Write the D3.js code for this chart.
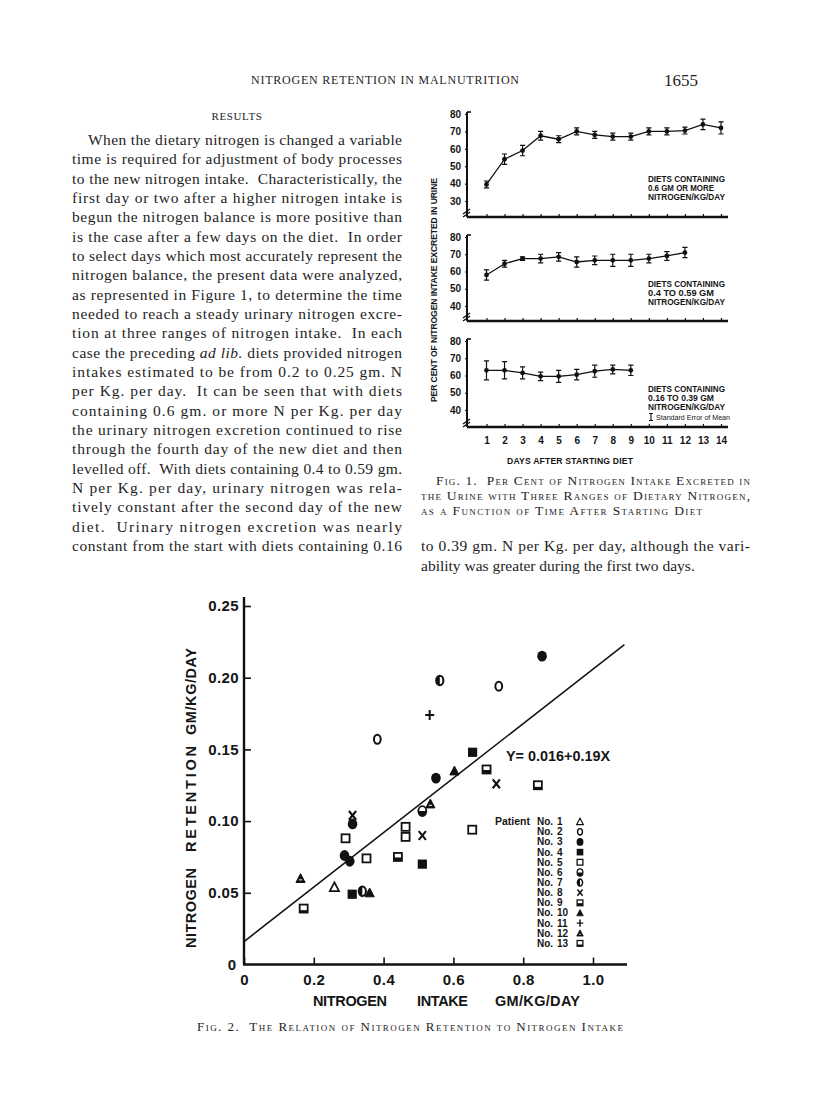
<!DOCTYPE html>
<html>
<head>
<meta charset="utf-8">
<script src="https://cdn.jsdelivr.net/npm/d3@7"></script>
<style>
  body { margin: 0; background: #fff; }
  svg { display: block; }
  .serif { font-family: "Liberation Serif", "DejaVu Serif", serif; fill: #1e1e1e; }
  .sans { font-family: "Liberation Sans", Arial, sans-serif; font-weight: bold; fill: #151515; }
  .sans-light { font-family: "Liberation Sans", Arial, sans-serif; fill: #151515; }
</style>
</head>
<body>
<svg id="page"></svg>
<script>
// ---- page text ----
const headerTitle = "NITROGEN RETENTION IN MALNUTRITION";
const pageNumber = "1655";
const sectionTitle = "RESULTS";
const leftColumn = [
  "When the dietary nitrogen is changed a variable",
  "time is required for adjustment of body processes",
  "to the new nitrogen intake.  Characteristically, the",
  "first day or two after a higher nitrogen intake is",
  "begun the nitrogen balance is more positive than",
  "is the case after a few days on the diet.  In order",
  "to select days which most accurately represent the",
  "nitrogen balance, the present data were analyzed,",
  "as represented in Figure 1, to determine the time",
  "needed to reach a steady urinary nitrogen excre-",
  "tion at three ranges of nitrogen intake.  In each",
  "case the preceding <i>ad lib.</i> diets provided nitrogen",
  "intakes estimated to be from 0.2 to 0.25 gm. N",
  "per Kg. per day.  It can be seen that with diets",
  "containing 0.6 gm. or more N per Kg. per day",
  "the urinary nitrogen excretion continued to rise",
  "through the fourth day of the new diet and then",
  "levelled off.  With diets containing 0.4 to 0.59 gm.",
  "N per Kg. per day, urinary nitrogen was rela-",
  "tively constant after the second day of the new",
  "diet.  Urinary nitrogen excretion was nearly",
  "constant from the start with diets containing 0.16"
];
const rightColumn = [
  "to 0.39 gm. N per Kg. per day, although the vari-",
  "ability was greater during the first two days."
];
const fig1Caption = [
  "Fig. 1.  Per Cent of Nitrogen Intake Excreted in",
  "the Urine with Three Ranges of Dietary Nitrogen,",
  "as a Function of Time After Starting Diet"
];
const fig2Caption = "Fig. 2.  The Relation of Nitrogen Retention to Nitrogen Intake";

// ---- Fig. 1 data (per cent of intake excreted, mean and standard error) ----
const dayTicks = [1, 2, 3, 4, 5, 6, 7, 8, 9, 10, 11, 12, 13, 14];
const daysHigh = [1, 2, 3, 4, 5, 6, 7, 8, 9, 10, 11, 12, 13, 14];
const pctHigh = [39.5, 54, 59, 67.5, 65.5, 70, 68, 67, 67, 70, 70, 70.5, 74, 72];
const errHigh = [2, 3, 3, 2.5, 2, 2, 2, 2, 2, 2, 2, 2, 3, 3.5];
const daysMid = [1, 2, 3, 4, 5, 6, 7, 8, 9, 10, 11, 12];
const pctMid = [58, 64.5, 67.5, 67.5, 68.5, 65.5, 66.5, 66.5, 66.5, 67.5, 69, 71];
const errMid = [3, 2, 1, 2.5, 2.5, 3, 2.5, 3.5, 3.5, 2.5, 2.5, 3];
const daysLow = [1, 2, 3, 4, 5, 6, 7, 8, 9];
const pctLow = [63, 63, 61.5, 59.5, 59.5, 60.5, 62.5, 63.5, 63];
const errLow = [5.5, 5, 3.5, 2.5, 3.5, 3, 3.5, 2.5, 3];
const ticksHigh = [30, 40, 50, 60, 70, 80];
const ticksMid = [40, 50, 60, 70, 80];
const ticksLow = [40, 50, 60, 70, 80];
const notesHigh = ["DIETS CONTAINING", "0.6 GM OR MORE", "NITROGEN/KG/DAY"];
const notesMid = ["DIETS CONTAINING", "0.4 TO 0.59 GM", "NITROGEN/KG/DAY"];
const notesLow = ["DIETS CONTAINING", "0.16 TO 0.39 GM", "NITROGEN/KG/DAY"];
const fig1YTitle = "PER CENT OF NITROGEN INTAKE EXCRETED IN URINE";
const fig1XTitle = "DAYS AFTER STARTING DIET";

// ---- Fig. 2 data (intake vs retention, gm/kg/day) ----
const patientNos = [1, 2, 3, 4, 5, 6, 7, 8, 9, 10, 11, 12, 13];
const patientSymbols = ["triOpen", "ring", "dot", "sqFill", "sqOpen", "ringLow", "ringSide",
  "cross", "sqHalf", "triFill", "plus", "triNotch", "sqBar"];
const intake = [0.259, 0.382, 0.730, 0.854, 0.550, 0.311, 0.288, 0.303, 0.655, 0.511, 0.310,
  0.291, 0.463, 0.463, 0.351, 0.654, 0.511, 0.561, 0.339, 0.311, 0.511, 0.723, 0.441, 0.695,
  0.603, 0.360, 0.532, 0.162, 0.534, 0.171, 0.842];
const retention = [0.054, 0.157, 0.194, 0.215, 0.130, 0.098, 0.076, 0.072, 0.148, 0.070, 0.049,
  0.088, 0.096, 0.089, 0.074, 0.094, 0.107, 0.198, 0.051, 0.104, 0.090, 0.126, 0.075, 0.136,
  0.135, 0.050, 0.174, 0.060, 0.112, 0.039, 0.125];
const patientOf = [1, 2, 2, 3, 3, 3, 3, 3, 4, 4, 4, 5, 5, 5, 5, 5, 6, 7, 7, 8, 8, 8, 9, 9,
  10, 10, 11, 12, 12, 13, 13];
const xTicks2 = [0, 0.2, 0.4, 0.6, 0.8, 1.0];
const xTickLabels2 = ["0", "0.2", "0.4", "0.6", "0.8", "1.0"];
const yTicks2 = [0.05, 0.10, 0.15, 0.20, 0.25];
const fitIntercept = 0.016;
const fitSlope = 0.19;
const fitXRange = [0, 1.09];
const fitLabel = "Y= 0.016+0.19X";

const svg = d3.select("#page").attr("width", 816).attr("height", 1109);
svg.append("rect").attr("width", 816).attr("height", 1109).attr("fill", "#fff");

// ---------- running head and body text ----------
svg.append("text").attr("class", "serif")
  .attr("x", 251).attr("y", 84).attr("font-size", 12)
  .attr("textLength", 268).attr("lengthAdjust", "spacing")
  .text(headerTitle);
svg.append("text").attr("class", "serif")
  .attr("x", 698).attr("y", 86).attr("font-size", 17).attr("text-anchor", "end")
  .text(pageNumber);
svg.append("text").attr("class", "serif")
  .attr("x", 237).attr("y", 120).attr("font-size", 11).attr("text-anchor", "middle")
  .attr("letter-spacing", 0.6)
  .text(sectionTitle);

// justified line with optional <i> runs
function bodyLine(x, y, width, line, justify) {
  const t = svg.append("text").attr("class", "serif")
    .attr("x", x).attr("y", y).attr("font-size", 15.5)
    .attr("xml:space", "preserve");
  if (justify) t.attr("textLength", width).attr("lengthAdjust", "spacing");
  line.split(/(<i>.*?<\/i>)/).forEach(part => {
    if (!part) return;
    const it = part.startsWith("<i>");
    t.append("tspan")
      .attr("font-style", it ? "italic" : null)
      .text(it ? part.slice(3, -4) : part);
  });
}

leftColumn.forEach((line, i) => {
  const x = i === 0 ? 88 : 72;
  bodyLine(x, 145 + i * 19.33, 402 - x, line, true);
});
bodyLine(421, 551, 329, rightColumn[0], true);
bodyLine(421, 570.5, 0, rightColumn[1], false);

// captions in small caps
fig1Caption.forEach((line, i) => {
  const x = i === 0 ? 436 : 421;
  const t = svg.append("text").attr("class", "serif")
    .attr("x", x).attr("y", 485 + i * 15).attr("font-size", 13.5)
    .style("font-variant", "small-caps")
    .attr("xml:space", "preserve")
    .text(line);
  if (i < 2) t.attr("textLength", 750 - x).attr("lengthAdjust", "spacing");
  else t.attr("textLength", 281).attr("lengthAdjust", "spacing");
});
svg.append("text").attr("class", "serif")
  .attr("x", 197).attr("y", 1031).attr("font-size", 13)
  .style("font-variant", "small-caps")
  .attr("xml:space", "preserve")
  .attr("textLength", 426).attr("lengthAdjust", "spacing")
  .text(fig2Caption);

// ---------- Fig. 1 ----------
const fig1 = svg.append("g").attr("class", "fig1");
const x1 = d3.scaleLinear().domain([1, 14]).range([486.5, 721]);
const axisLeftX = 467;
const axisRightX = 728;

const panels = [
  { days: daysHigh, pct: pctHigh, err: errHigh, ticks: ticksHigh, notes: notesHigh,
    lo: 30, loY: 201, topY: 114, base: 217, noteY: 182, labels: false },
  { days: daysMid, pct: pctMid, err: errMid, ticks: ticksMid, notes: notesMid,
    lo: 40, loY: 306, topY: 237, base: 321, noteY: 287, labels: false },
  { days: daysLow, pct: pctLow, err: errLow, ticks: ticksLow, notes: notesLow,
    lo: 40, loY: 410, topY: 341, base: 427, noteY: 392, labels: true }
];

panels.forEach(p => {
  const y = d3.scaleLinear().domain([p.lo, 80]).range([p.loY, p.topY]);
  const g = fig1.append("g");

  // y axis: ticks and labels from d3.axisLeft
  const ya = g.append("g")
    .attr("transform", `translate(${axisLeftX},0)`)
    .call(d3.axisLeft(y).tickValues(p.ticks).tickSize(2).tickPadding(4).tickFormat(d3.format("d")));
  ya.select(".domain").remove();
  ya.selectAll("line").attr("stroke", "#111").attr("stroke-width", 1.2);
  ya.selectAll("text").attr("class", "sans").attr("font-size", 10)
    .attr("font-family", null).attr("fill", null);

  g.append("line")
    .attr("x1", axisLeftX).attr("x2", axisLeftX)
    .attr("y1", y(80) - 2).attr("y2", p.base)
    .attr("stroke", "#111").attr("stroke-width", 2);
  g.append("line")
    .attr("x1", axisLeftX).attr("x2", axisLeftX + 4)
    .attr("y1", y(80) - 2).attr("y2", y(80) - 2)
    .attr("stroke", "#111").attr("stroke-width", 1.6);
  // axis break mark
  g.append("path")
    .attr("d", `M${axisLeftX - 4},${p.base - 3} l7,-5 M${axisLeftX - 4},${p.base} l7,-5`)
    .attr("stroke", "#111").attr("stroke-width", 1.4).attr("fill", "none");

  // bottom axis with upward ticks
  const xa = g.append("g")
    .attr("transform", `translate(0,${p.base})`)
    .call(d3.axisBottom(x1).tickValues(dayTicks).tickSize(-3).tickPadding(10)
      .tickFormat(p.labels ? d3.format("d") : () => ""));
  xa.select(".domain").remove();
  xa.selectAll("line").attr("stroke", "#111").attr("stroke-width", 1.2);
  xa.selectAll("text").attr("class", "sans").attr("font-size", 10)
    .attr("font-family", null).attr("fill", null);
  g.append("line")
    .attr("x1", axisLeftX).attr("x2", axisRightX)
    .attr("y1", p.base).attr("y2", p.base)
    .attr("stroke", "#111").attr("stroke-width", 2.6);

  // series
  const pts = p.days.map((d, i) => ({ day: d, v: p.pct[i], e: p.err[i] }));
  g.append("path")
    .datum(pts)
    .attr("d", d3.line().x(d => x1(d.day)).y(d => y(d.v)))
    .attr("fill", "none").attr("stroke", "#111").attr("stroke-width", 1.3);

  const eb = g.selectAll("g.eb").data(pts).enter().append("g").attr("class", "eb");
  eb.append("line")
    .attr("x1", d => x1(d.day)).attr("x2", d => x1(d.day))
    .attr("y1", d => y(d.v + d.e)).attr("y2", d => y(d.v - d.e))
    .attr("stroke", "#111").attr("stroke-width", 1.2);
  eb.append("path")
    .attr("d", d => `M${x1(d.day) - 2.6},${y(d.v + d.e)}h5.2M${x1(d.day) - 2.6},${y(d.v - d.e)}h5.2`)
    .attr("stroke", "#111").attr("stroke-width", 1.2);
  eb.append("circle")
    .attr("cx", d => x1(d.day)).attr("cy", d => y(d.v)).attr("r", 2.4)
    .attr("fill", "#111");

  // diet notes
  p.notes.forEach((n, i) => {
    g.append("text").attr("class", "sans-light")
      .attr("x", 648).attr("y", p.noteY + i * 8.8)
      .attr("font-size", 8.6).attr("font-weight", 600)
      .attr("textLength", n.startsWith("DIETS") || n.startsWith("NITRO") ? 77 : 66)
      .attr("lengthAdjust", "spacingAndGlyphs")
      .text(n);
  });
});

// standard error legend in bottom panel
fig1.append("path")
  .attr("d", "M651,413.5v7 M649,413.5h4 M649,420.5h4")
  .attr("stroke", "#111").attr("stroke-width", 1.1);
fig1.append("text").attr("class", "sans-light")
  .attr("x", 656).attr("y", 420).attr("font-size", 8)
  .attr("textLength", 74).attr("lengthAdjust", "spacingAndGlyphs")
  .text("Standard Error of Mean");

fig1.append("text").attr("class", "sans-light")
  .attr("transform", "translate(437,402) rotate(-90)")
  .attr("font-size", 8.6).attr("font-weight", 600)
  .attr("textLength", 224).attr("lengthAdjust", "spacing")
  .text(fig1YTitle);
fig1.append("text").attr("class", "sans")
  .attr("x", 507).attr("y", 464).attr("font-size", 8.6)
  .attr("textLength", 126).attr("lengthAdjust", "spacing")
  .text(fig1XTitle);

// ---------- Fig. 2 ----------
const fig2 = svg.append("g").attr("class", "fig2");
const x2 = d3.scaleLinear().domain([0, 1]).range([244, 593]);
const y2 = d3.scaleLinear().domain([0, 0.25]).range([964.5, 606]);

const ya2 = fig2.append("g")
  .attr("transform", `translate(${x2(0)},0)`)
  .call(d3.axisLeft(y2).tickValues(yTicks2).tickSize(-7).tickPadding(5).tickFormat(d3.format(".2f")));
ya2.select(".domain").remove();
ya2.selectAll("line").attr("stroke", "#111").attr("stroke-width", 1.6);
ya2.selectAll("text").attr("class", "sans").attr("font-size", 15)
  .attr("font-family", null).attr("fill", null).attr("letter-spacing", 0.4);

const xa2 = fig2.append("g")
  .attr("transform", `translate(0,${y2(0)})`)
  .call(d3.axisBottom(x2).tickValues(xTicks2).tickSize(-7).tickPadding(10)
    .tickFormat((d, i) => xTickLabels2[i]));
xa2.select(".domain").remove();
xa2.selectAll("line").attr("stroke", "#111").attr("stroke-width", 1.6);
xa2.selectAll("text").attr("class", "sans").attr("font-size", 15)
  .attr("font-family", null).attr("fill", null).attr("letter-spacing", 0.4);

fig2.append("line")
  .attr("x1", x2(0)).attr("x2", x2(0)).attr("y1", y2(0)).attr("y2", 597)
  .attr("stroke", "#111").attr("stroke-width", 2.4);
fig2.append("line")
  .attr("x1", x2(0) - 1).attr("x2", 627).attr("y1", y2(0)).attr("y2", y2(0))
  .attr("stroke", "#111").attr("stroke-width", 2.6);
fig2.append("text").attr("class", "sans")
  .attr("x", 232).attr("y", 970).attr("font-size", 15).attr("text-anchor", "middle")
  .text("0");

// axis titles
const yTitleParts = [["NITROGEN", 948, 80], ["RETENTION", 852, 106], ["GM/KG/DAY", 735, 87]];
yTitleParts.forEach(([s, y0, len]) => {
  fig2.append("text").attr("class", "sans")
    .attr("transform", `translate(196,${y0}) rotate(-90)`)
    .attr("font-size", 14.5).attr("textLength", len).attr("lengthAdjust", "spacing")
    .text(s);
});
const xTitleParts = [["NITROGEN", 313, 74], ["INTAKE", 417, 51], ["GM/KG/DAY", 495, 85]];
xTitleParts.forEach(([s, x0, len]) => {
  fig2.append("text").attr("class", "sans")
    .attr("x", x0).attr("y", 1006).attr("font-size", 14.5)
    .attr("textLength", len).attr("lengthAdjust", "spacing")
    .text(s);
});

// regression line
fig2.append("line")
  .attr("x1", x2(fitXRange[0])).attr("y1", y2(fitIntercept + fitSlope * fitXRange[0]))
  .attr("x2", x2(fitXRange[1])).attr("y2", y2(fitIntercept + fitSlope * fitXRange[1]))
  .attr("stroke", "#111").attr("stroke-width", 1.5);
fig2.append("text").attr("class", "sans-light")
  .attr("x", 506).attr("y", 761).attr("font-size", 14.5).attr("font-weight", 600)
  .attr("textLength", 104).attr("lengthAdjust", "spacingAndGlyphs")
  .text(fitLabel);

// symbols
function drawSymbol(g, kind, s) {
  const ink = "#111";
  const tri = `M0,${-4.8 * s}L${4.6 * s},${4 * s}L${-4.6 * s},${4 * s}Z`;
  switch (kind) {
    case "triOpen":
      g.append("path").attr("d", tri).attr("fill", "#fff").attr("stroke", ink).attr("stroke-width", 1.7 * s);
      break;
    case "ring":
      g.append("ellipse").attr("rx", 3.4 * s).attr("ry", 4.5 * s)
        .attr("fill", "#fff").attr("stroke", ink).attr("stroke-width", 2 * s);
      break;
    case "dot":
      g.append("ellipse").attr("rx", 4.8 * s).attr("ry", 5.4 * s).attr("fill", ink);
      break;
    case "sqFill":
      g.append("rect").attr("x", -4.6 * s).attr("y", -4.6 * s)
        .attr("width", 9.2 * s).attr("height", 9.2 * s).attr("fill", ink);
      break;
    case "sqOpen":
      g.append("rect").attr("x", -4 * s).attr("y", -4 * s)
        .attr("width", 8 * s).attr("height", 8 * s)
        .attr("fill", "#fff").attr("stroke", ink).attr("stroke-width", 1.8 * s);
      break;
    case "ringLow":
      g.append("ellipse").attr("rx", 4 * s).attr("ry", 5 * s)
        .attr("fill", "#fff").attr("stroke", ink).attr("stroke-width", 1.8 * s);
      g.append("path").attr("d", `M${-4 * s},0A${4 * s},${5 * s} 0 0 0 ${4 * s},0Z`).attr("fill", ink);
      break;
    case "ringSide":
      g.append("ellipse").attr("rx", 3.6 * s).attr("ry", 4.8 * s)
        .attr("fill", "#fff").attr("stroke", ink).attr("stroke-width", 2 * s);
      g.append("path").attr("d", `M0,${-4.8 * s}A${3.6 * s},${4.8 * s} 0 0 0 0,${4.8 * s}Z`).attr("fill", ink);
      break;
    case "cross":
      g.append("path").attr("d", `M${-3.6 * s},${-4.4 * s}L${3.6 * s},${4.4 * s}M${3.6 * s},${-4.4 * s}L${-3.6 * s},${4.4 * s}`)
        .attr("stroke", ink).attr("stroke-width", 2.1 * s);
      break;
    case "sqHalf":
      g.append("rect").attr("x", -4 * s).attr("y", -4 * s)
        .attr("width", 8 * s).attr("height", 8 * s)
        .attr("fill", "#fff").attr("stroke", ink).attr("stroke-width", 1.8 * s);
      g.append("rect").attr("x", -4 * s).attr("y", 0.5 * s)
        .attr("width", 8 * s).attr("height", 3.5 * s).attr("fill", ink);
      break;
    case "triFill":
      g.append("path").attr("d", tri).attr("fill", ink).attr("stroke", ink).attr("stroke-width", 1 * s);
      break;
    case "plus":
      g.append("path").attr("d", `M${-4.5 * s},0H${4.5 * s}M0,${-5 * s}V${5 * s}`)
        .attr("stroke", ink).attr("stroke-width", 2 * s);
      break;
    case "triNotch":
      g.append("path").attr("d", tri).attr("fill", ink).attr("stroke", ink).attr("stroke-width", 1 * s);
      g.append("path").attr("d", `M${-1.6 * s},${1.4 * s}H${1.6 * s}`)
        .attr("stroke", "#fff").attr("stroke-width", 1 * s);
      break;
    case "sqBar":
      g.append("rect").attr("x", -4 * s).attr("y", -4 * s)
        .attr("width", 8 * s).attr("height", 8 * s)
        .attr("fill", "#fff").attr("stroke", ink).attr("stroke-width", 1.8 * s);
      g.append("rect").attr("x", -4 * s).attr("y", 1.6 * s)
        .attr("width", 8 * s).attr("height", 2.4 * s).attr("fill", ink);
      break;
  }
}

const points = intake.map((v, i) => ({ x: v, y: retention[i], p: patientOf[i] }));
fig2.selectAll("g.pt")
  .data(points)
  .enter()
  .append("g")
  .attr("class", "pt")
  .attr("transform", d => `translate(${x2(d.x)},${y2(d.y)})`)
  .each(function (d) { drawSymbol(d3.select(this), patientSymbols[d.p - 1], 1); });

// legend
const legend = fig2.append("g").attr("class", "legend");
legend.append("text").attr("class", "sans")
  .attr("x", 495).attr("y", 825).attr("font-size", 10)
  .attr("textLength", 35).attr("lengthAdjust", "spacingAndGlyphs")
  .text("Patient");
const rows = legend.selectAll("g.row")
  .data(patientNos)
  .enter()
  .append("g")
  .attr("class", "row")
  .attr("transform", (_d, i) => `translate(0,${821.7 + i * 10.14})`);
rows.append("text").attr("class", "sans")
  .attr("x", 537).attr("y", 3.5).attr("font-size", 10)
  .text("No.");
rows.append("text").attr("class", "sans")
  .attr("x", 557).attr("y", 3.5).attr("font-size", 10)
  .text(d => d);
rows.append("g")
  .attr("transform", "translate(580,0)")
  .each(function (d) { drawSymbol(d3.select(this), patientSymbols[d - 1], 0.72); });
</script>
</body>
</html>
